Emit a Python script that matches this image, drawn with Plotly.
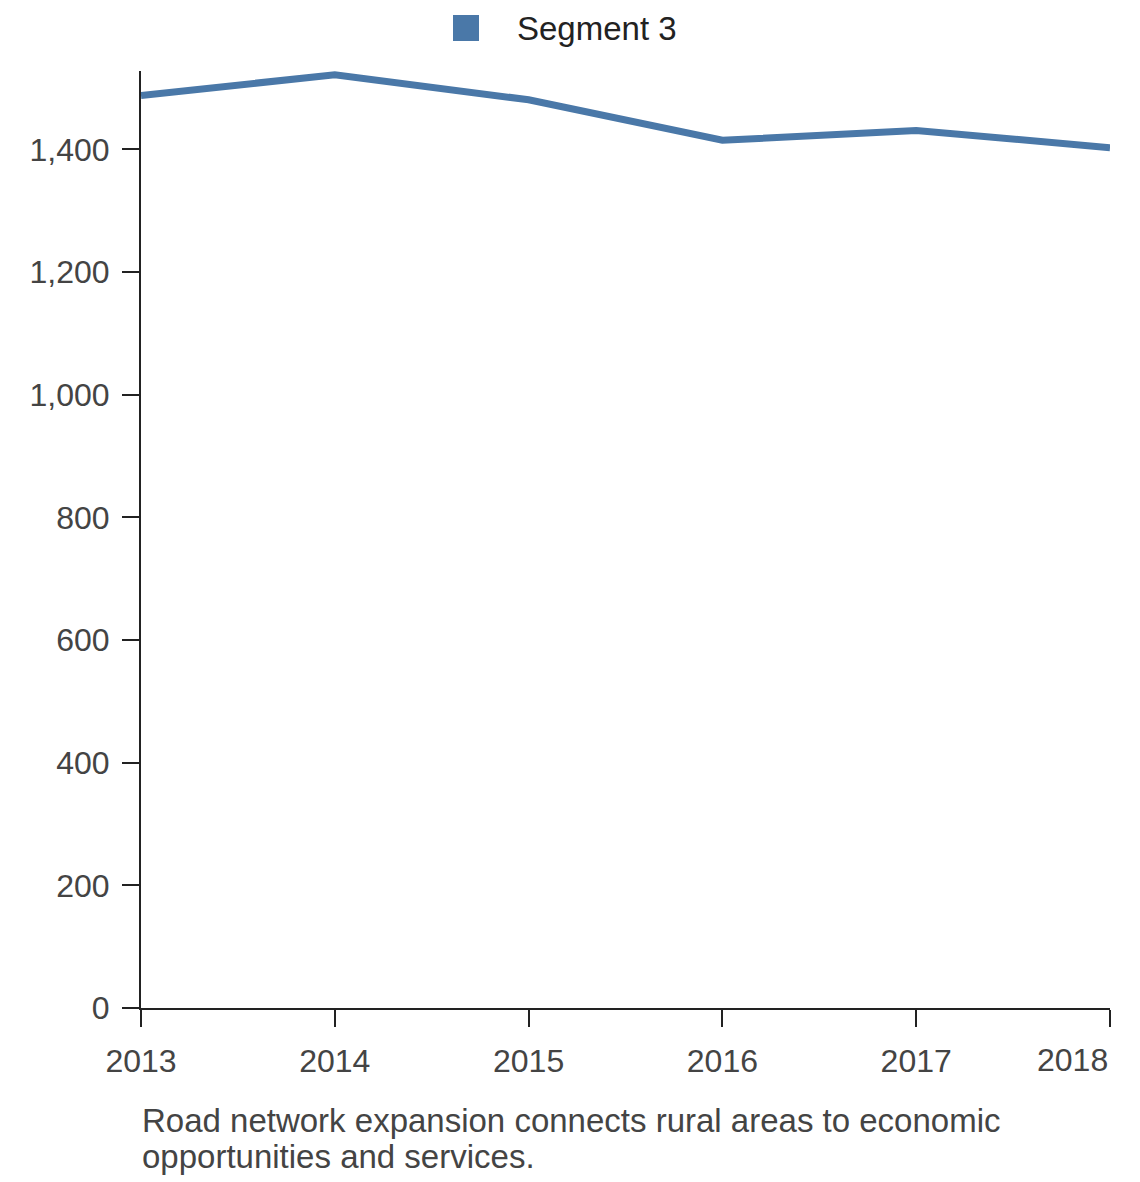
import plotly.graph_objects as go

years = [2013, 2014, 2015, 2016, 2017, 2018]
segment_3 = [1488, 1522, 1481, 1415, 1431, 1403]
y_ticks = [0, 200, 400, 600, 800, 1000, 1200, 1400]
series_name = "Segment 3"
caption_lines = [
    "Road network expansion connects rural areas to economic",
    "opportunities and services.",
]

line_color = "#4a78a8"
font = "Liberation Sans, Arial, sans-serif"
fsize = 32

# page body has an 8px margin, so margins are shifted to compensate
W, H = 1140, 1182
ML, MR, MT, MB = 133, 38, 63, 182
y_top = max(segment_3) + 6  # a little headroom so the thick line isn't clipped

fig = go.Figure()

fig.add_trace(
    go.Scatter(
        x=years, y=segment_3, mode="lines", name=series_name, showlegend=False,
        line=dict(color=line_color, width=7),
    )
)

# legend: square swatch + label, placed above the plot
def px_x(p):
    return (p - 8 - ML) / (W - ML - MR)

def px_y(p):
    return 1 - (p - 8 - MT) / (H - MT - MB)

fig.add_shape(
    type="rect", xref="paper", yref="paper",
    x0=px_x(453), x1=px_x(479), y0=px_y(41), y1=px_y(15),
    fillcolor=line_color, line=dict(width=0),
)
fig.add_annotation(
    x=px_x(515), y=px_y(29), xref="paper", yref="paper", text=series_name,
    showarrow=False, xanchor="left", yanchor="middle",
    font=dict(family=font, size=33, color="#222"),
)

# last year label sits right-aligned at the axis end
fig.add_annotation(
    x=years[-1], y=0, xref="x", yref="paper", text=str(years[-1]),
    showarrow=False, xanchor="right", yanchor="top", yshift=-32,
    font=dict(family=font, size=fsize, color="#444"),
)

for i, line in enumerate(caption_lines):
    fig.add_annotation(
        x=px_x(140), y=px_y(1120 + 36 * i), xref="paper", yref="paper",
        text=line, showarrow=False, xanchor="left", yanchor="middle",
        font=dict(family=font, size=33, color="#444"),
    )

fig.update_layout(
    width=W, height=H,
    margin=dict(l=ML, r=MR, t=MT, b=MB, autoexpand=False),
    paper_bgcolor="white", plot_bgcolor="white",
    font=dict(family=font, size=fsize, color="#444"),
    showlegend=False,
    xaxis=dict(
        range=[years[0], years[-1]], tickvals=years,
        ticktext=[str(y) for y in years[:-1]] + [""],
        showgrid=False, zeroline=False, showline=True,
        linecolor="#222", linewidth=2,
        ticks="outside", ticklen=17, tickwidth=2, tickcolor="#222",
        ticklabelstandoff=7,
        tickfont=dict(family=font, size=fsize, color="#444"),
    ),
    yaxis=dict(
        range=[0, y_top], tickvals=y_ticks,
        tickformat=",", showgrid=False, zeroline=False, showline=True,
        linecolor="#222", linewidth=2,
        ticks="outside", ticklen=17, tickwidth=2, tickcolor="#222",
        ticklabelstandoff=6,
        tickfont=dict(family=font, size=fsize, color="#444"),
    ),
)

fig.write_html("out.html")
